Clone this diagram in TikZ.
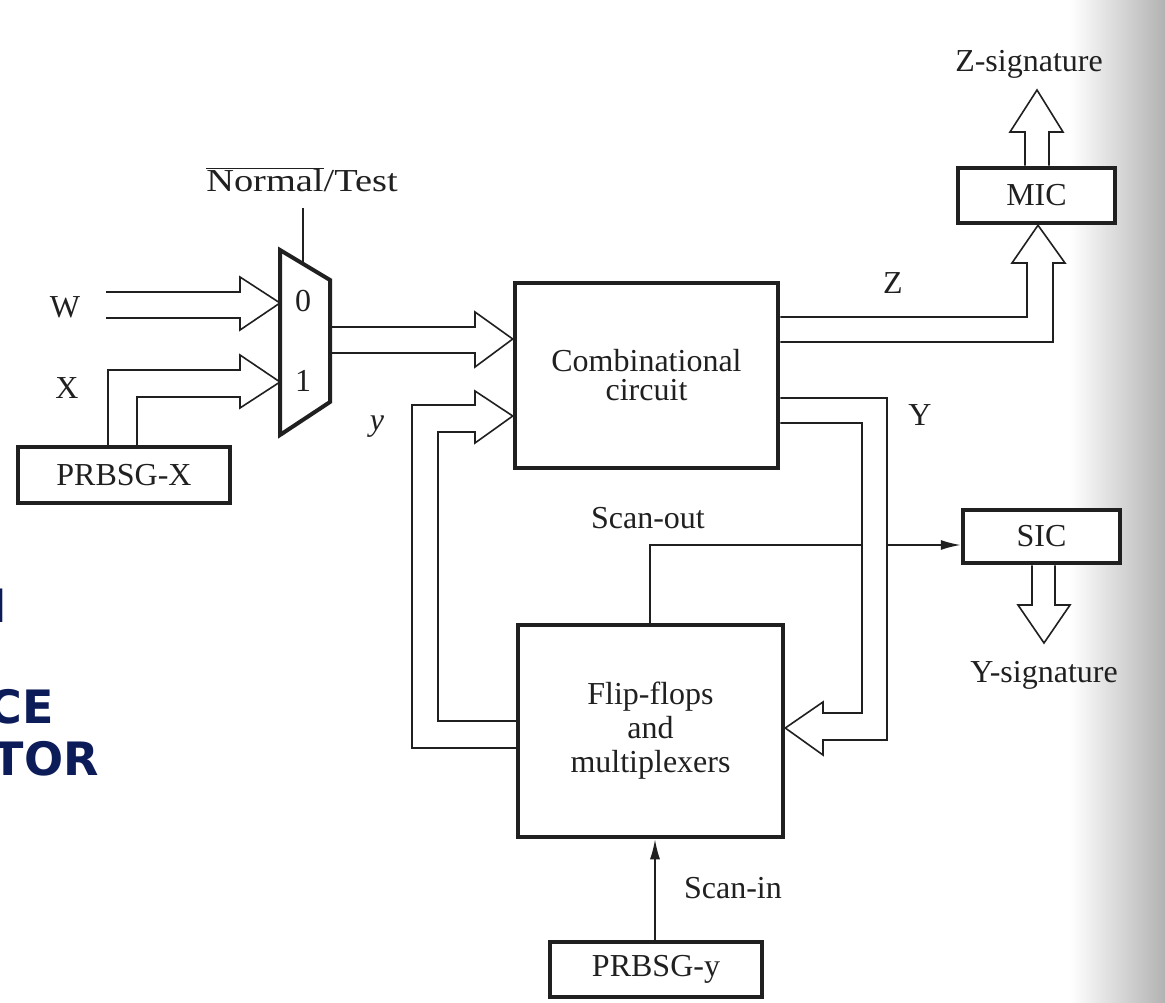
\documentclass[tikz,border=0pt]{standalone}
\usepackage{graphicx}
\usepackage{fontspec}
\setmainfont{Liberation Serif}
\newfontfamily\bannerfont{DejaVu Sans}
\usetikzlibrary{arrows.meta}
\pgfdeclarelayer{paper}
\pgfdeclarelayer{back}
\pgfsetlayers{paper,back,main}
\definecolor{ink}{RGB}{32,32,32}
\definecolor{navy}{RGB}{12,28,88}

\begin{document}
\begin{tikzpicture}[x=1pt,y=-1pt,
  every node/.style={font=\fontsize{32}{34}\selectfont, text=ink, inner sep=0pt},
  block/.style={draw=ink, line width=4.5pt, rectangle, fill=white},
  bus/.style={draw=ink, line width=1.6pt, fill=white, line join=miter},
  wire/.style={draw=ink, line width=1.6pt},
  sig/.style={wire, -{Latex[length=20pt,width=10pt]}},
  lbl/.style={anchor=base},
  banner/.style={font=\bannerfont\bfseries\fontsize{46}{48}\selectfont, text=navy, anchor=base east}
]
\useasboundingbox (0,0) rectangle (1165,1003);
\begin{pgfonlayer}{paper}
\fill[white] (0,0) rectangle (1165,1003);
\shade[left color=white, right color=black!30] (1070,0) rectangle (1165,1003);
\end{pgfonlayer}

% heading words at the left edge
\node[banner] (h1) at (7,622) {N};
\node[banner] (h2) at (54,723) {CE};
\node[banner] (h3) at (99,775) {TOR};

% blocks
\node[block, minimum width=263pt, minimum height=185pt, align=center,
      font=\fontsize{32}{29}\selectfont] (comb) at (646.5,375.5) {Combinational\\circuit};
\node[block, minimum width=265pt, minimum height=212pt, align=center] (ff) at (650.5,731) {Flip-flops\\and\\multiplexers};
\node[block, minimum width=212pt, minimum height=56pt] (prbsgx) at (124,475) {PRBSG-X};
\node[block, minimum width=212pt, minimum height=55pt] (prbsgy) at (656,969.5) {PRBSG-y};
\node[block, minimum width=157pt, minimum height=55pt] (mic) at (1036.5,195.5) {MIC};
\node[block, minimum width=157pt, minimum height=53pt] (sic) at (1041.5,536.5) {SIC};

% multiplexer
\draw[ink, line width=4pt, line join=miter, fill=white]
  (280,250) -- (330,280) -- (330,402) -- (280,435) -- cycle;
\coordinate (mux-sel) at (303,264);
\coordinate (mux-in0) at (280,303);
\coordinate (mux-in1) at (280,382);
\coordinate (mux-out) at (330,340);
\node[lbl] (in0) at (303,312) {0};
\node[lbl] (in1) at (303,391) {1};

% labels
\node[lbl] (sel) at (302,192) {\scalebox{1.2}[1]{$\overline{\mbox{Normal}}$/Test}};
\node[lbl] (w) at (65,317) {W};
\node[lbl] (x) at (67,398) {X};
\node[lbl] (ylow) at (377,430) {\itshape y};
\node[lbl] (z) at (893,293) {Z};
\node[lbl] (yup) at (920,425) {Y};
\node[lbl] (sout) at (648,528) {Scan-out};
\node[lbl] (sin) at (733,898) {Scan-in};
\node[lbl] (zsig) at (1029,72) {Z-signature};
\node[lbl] (ysig) at (1044,682) {Y-signature};

\coordinate (w-src) at (106,305);
\coordinate (zsig-tip) at (1037,90);
\coordinate (ysig-tip) at (1044,643);

% select line
\draw[wire] (303,208) -- (mux-sel);

\begin{pgfonlayer}{back}
% single-bit scan path
\draw[sig] (650,0 |- ff.north) -- (650,545) -- (sic.west |- 0,545);
\draw[sig] (655,0 |- prbsgy.north) -- (655,0 |- ff.south);

% W inputs
\draw[wire, line join=miter] (w-src |- 0,292) -- (240,292) -- (240,277) -- (mux-in0)
  -- (240,330) -- (240,318) -- (w-src |- 0,318);
% X inputs from PRBSG-X
\path[bus] (108,0 |- prbsgx.north) -- (108,370) -- (240,370) -- (240,355) -- (mux-in1)
  -- (240,408) -- (240,397) -- (137,397) -- (137,0 |- prbsgx.north);
% multiplexer output
\path[bus] (mux-out |- 0,327) -- (475,327) -- (475,312) -- (comb.west |- 0,339)
  -- (475,367) -- (475,353) -- (mux-out |- 0,353);
% y feedback
\path[bus] (ff.west |- 0,748) -- (412,748) -- (412,405) -- (475,405) -- (475,391)
  -- (comb.west |- 0,416) -- (475,443) -- (475,432) -- (438,432) -- (438,721)
  -- (ff.west |- 0,721);
% Y bus into flip-flops
\path[bus] (comb.east |- 0,398) -- (887,398) -- (887,740) -- (823,740) -- (823,755)
  -- (ff.east |- 0,728) -- (823,702) -- (823,713) -- (862,713) -- (862,423)
  -- (comb.east |- 0,423);
% Z bus into MIC
\path[bus] (comb.east |- 0,317) -- (1027,317) -- (1027,263) -- (1012,263)
  -- (1038,0 |- mic.south) -- (1065,263) -- (1053,263) -- (1053,342)
  -- (comb.east |- 0,342);
% MIC signature output
\path[bus] (1025,0 |- mic.north) -- (1025,132) -- (1010,132) -- (zsig-tip)
  -- (1063,132) -- (1049,132) -- (1049,0 |- mic.north);
% SIC signature output
\path[bus] (1032,0 |- sic.south) -- (1032,605) -- (1018,605) -- (ysig-tip)
  -- (1070,605) -- (1055,605) -- (1055,0 |- sic.south);
\end{pgfonlayer}
\end{tikzpicture}
\end{document}
